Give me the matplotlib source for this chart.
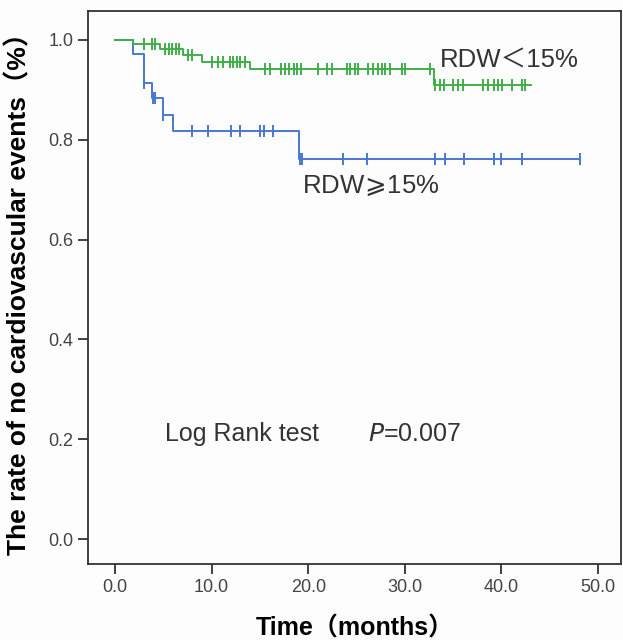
import numpy as np
import matplotlib.pyplot as plt

plt.rcParams['font.family'] = ['Liberation Sans', 'Noto Sans CJK SC', 'DejaVu Sans']

# 低RDW组 (RDW<15%)
green_t = [0, 1.9, 4.7, 7.0, 9.0, 14.0, 33.0]
green_s = [1.0, 0.992, 0.981, 0.970, 0.956, 0.941, 0.909]
green_end = 43.1
green_cens = [3.0, 3.8, 4.1, 5.2, 5.6, 5.9, 6.3, 6.6, 7.5, 8.0,
              10.0, 10.7, 11.2, 11.9, 12.2, 12.6, 12.9, 13.5,
              15.5, 16.0, 17.2, 17.6, 18.0, 18.5, 18.8, 19.3, 21.0, 21.9, 22.5,
              24.0, 24.3, 24.8, 25.2, 26.2, 26.7, 27.2, 27.6, 28.0, 28.5, 29.7, 30.0, 32.6,
              33.1, 33.6, 34.1, 35.0, 35.5, 36.0, 38.1, 38.6, 39.2, 39.6, 40.1, 41.1, 42.1, 42.4]

# 高RDW组 (RDW>=15%)
blue_t = [0, 1.9, 3.0, 3.8, 5.0, 6.0, 19.0]
blue_s = [1.0, 0.972, 0.913, 0.883, 0.849, 0.818, 0.762]
blue_end = 48.1
blue_cens = [3.0, 3.9, 4.1, 5.0, 8.0, 9.6, 12.0, 12.9, 15.0, 15.4, 16.4,
             19.1, 19.4, 23.6, 26.1, 33.1, 34.2, 36.1, 39.2, 40.0, 42.1, 48.1]

green_c = '#3fae4a'
blue_c = '#4a78d0'

fig = plt.figure(figsize=(6.23, 6.4), dpi=100, facecolor='#fdfdfd')
ax = fig.add_axes([0.1413, 0.1188, 0.8557, 0.864])
ax.set_facecolor('#fdfdfd')


def km(ax, t, s, end, cens, color):
    tt = list(t) + [end]
    ss = list(s) + [s[-1]]
    ax.step(tt, ss, where='post', color=color, lw=1.4)
    idx = np.searchsorted(t, cens, side='right') - 1
    ax.plot(cens, np.array(s)[idx], ls='none', marker='|', ms=9, mew=1.4, color=color)


km(ax, blue_t, blue_s, blue_end, blue_cens, blue_c)
km(ax, green_t, green_s, green_end, green_cens, green_c)

ax.set_xlim(-2.8, 52.4)
ax.set_ylim(-0.05, 1.058)
ax.set_xticks(np.arange(0, 51, 10))
ax.set_xticklabels([f'{v:.1f}' for v in np.arange(0, 51, 10)])
ax.set_yticks(np.arange(0, 1.01, 0.2))
ax.set_yticklabels([f'{v:.1f}' for v in np.arange(0, 1.01, 0.2)])
ax.tick_params(direction='out', length=7, width=1.3, color='#333333',
               labelsize=13, labelcolor='#444444')
for sp in ax.spines.values():
    sp.set_color('#333333')
    sp.set_linewidth(1.3)

ax.set_xlabel('Time（months）', fontsize=18, fontweight='bold')
ax.xaxis.set_label_coords(0.5, -0.095)
ax.set_ylabel('The rate of no cardiovascular events（%）', fontsize=19,
              fontweight='bold')
ax.yaxis.set_label_coords(-0.107, 0.5)

ax.text(33.6, 0.96, 'RDW＜15%', fontsize=18.5, color='#333333', va='center')
ax.text(19.4, 0.708, 'RDW$\\!\\geqslant\\!$15%', fontsize=18.5, color='#333333', va='center')
ax.text(5.2, 0.21, 'Log Rank test', fontsize=18, color='#333333', va='center')
ax.text(26.2, 0.21, r'$P$=0.007', fontsize=18, color='#333333', va='center')

fig.savefig('out.png', dpi=100, facecolor=fig.get_facecolor())
